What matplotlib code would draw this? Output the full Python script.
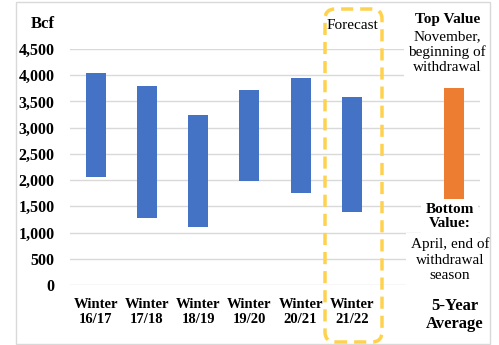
import numpy as np
import matplotlib.pyplot as plt
from matplotlib.patches import FancyBboxPatch, Rectangle

# storage range per winter (Bcf): November start vs. April end of withdrawal
seasons = ["Winter\n16/17", "Winter\n17/18", "Winter\n18/19", "Winter\n19/20",
           "Winter\n20/21", "Winter\n21/22", "", "5-Year\nAverage"]
top_vals = [4050, 3790, 3240, 3720, 3940, 3580, None, 3750]
bottom_vals = [2050, 1280, 1100, 1980, 1750, 1390, None, 1630]
bar_colors = ["#4472C4"] * 6 + ["none", "#ED7D31"]
yticks = [0, 500, 1000, 1500, 2000, 2500, 3000, 3500, 4000, 4500]

plt.rcParams["font.family"] = ["Liberation Serif", "DejaVu Serif"]

fig = plt.figure(figsize=(4.99, 3.45), dpi=100)
ax = fig.add_axes([70 / 499, 60 / 345, 410 / 499, 236 / 345])

x = np.arange(len(seasons))
for xi, t, b, c in zip(x, top_vals, bottom_vals, bar_colors):
    if t is None:
        continue
    ax.bar(xi, t - b, bottom=b, width=0.39, color=c, zorder=2)

ax.set_xlim(-0.5, len(seasons) - 0.5)
ax.set_ylim(0, 4500)
ax.set_yticks(yticks)
ax.set_yticklabels([f"{v:,}" for v in yticks], fontsize=11.5, fontweight="bold")
ax.set_xticks(x)
ax.set_xticklabels(seasons, fontsize=10.5, fontweight="bold", linespacing=1.25)
ax.get_xticklabels()[-1].set_fontsize(12)
ax.tick_params(axis="y", length=0, pad=11)
ax.tick_params(axis="x", length=0, pad=9)
ax.yaxis.grid(True, color="#d9d9d9", lw=1, zorder=0)
ax.set_axisbelow(True)
for s in ax.spines.values():
    s.set_visible(False)

tr = ax.get_xaxis_transform()
box = dict(facecolor="white", edgecolor="none", pad=3)

# notes in the empty column
ax.text(6.86, 1.127, "Top Value", transform=tr, ha="center", va="center",
        fontsize=11, fontweight="bold", bbox=box, clip_on=False, zorder=4)
ax.text(6.86, 0.987, "November,\nbeginning of\nwithdrawal", transform=tr,
        ha="center", va="center", fontsize=11, linespacing=1.2,
        bbox=box, clip_on=False, zorder=4)
ax.text(6.91, 0.290, "Bottom\nValue:", transform=tr, ha="center", va="center",
        fontsize=11, fontweight="bold", linespacing=1.1, bbox=box, zorder=4)
ax.text(6.91, 0.106, "April, end of\nwithdrawal\nseason", transform=tr,
        ha="center", va="center", fontsize=11, linespacing=1.25,
        bbox=box, zorder=4)

ax.text(5.02, 1.10, "Forecast", transform=tr, ha="center", va="center",
        fontsize=11, clip_on=False, zorder=4)

fig.text(43 / 499, 1 - 24 / 345, "Bcf", ha="center", va="center",
         fontsize=12, fontweight="bold")

# dashed frame around the forecast column
fig.patches.append(FancyBboxPatch(
    (3.25, 0.03), 0.57, 3.33, boxstyle="round,pad=0,rounding_size=0.1",
    transform=fig.dpi_scale_trans, facecolor="none", edgecolor="#FFD24D",
    lw=2.5, linestyle=(0, (3.5, 2)), zorder=5))

# light outer border
fig.patches.append(Rectangle(
    (16 / 499, 1 / 345), 474 / 499, 342 / 345, transform=fig.transFigure,
    facecolor="none", edgecolor="#d9d9d9", lw=1, zorder=0))

fig.savefig("out.png", dpi=100)
